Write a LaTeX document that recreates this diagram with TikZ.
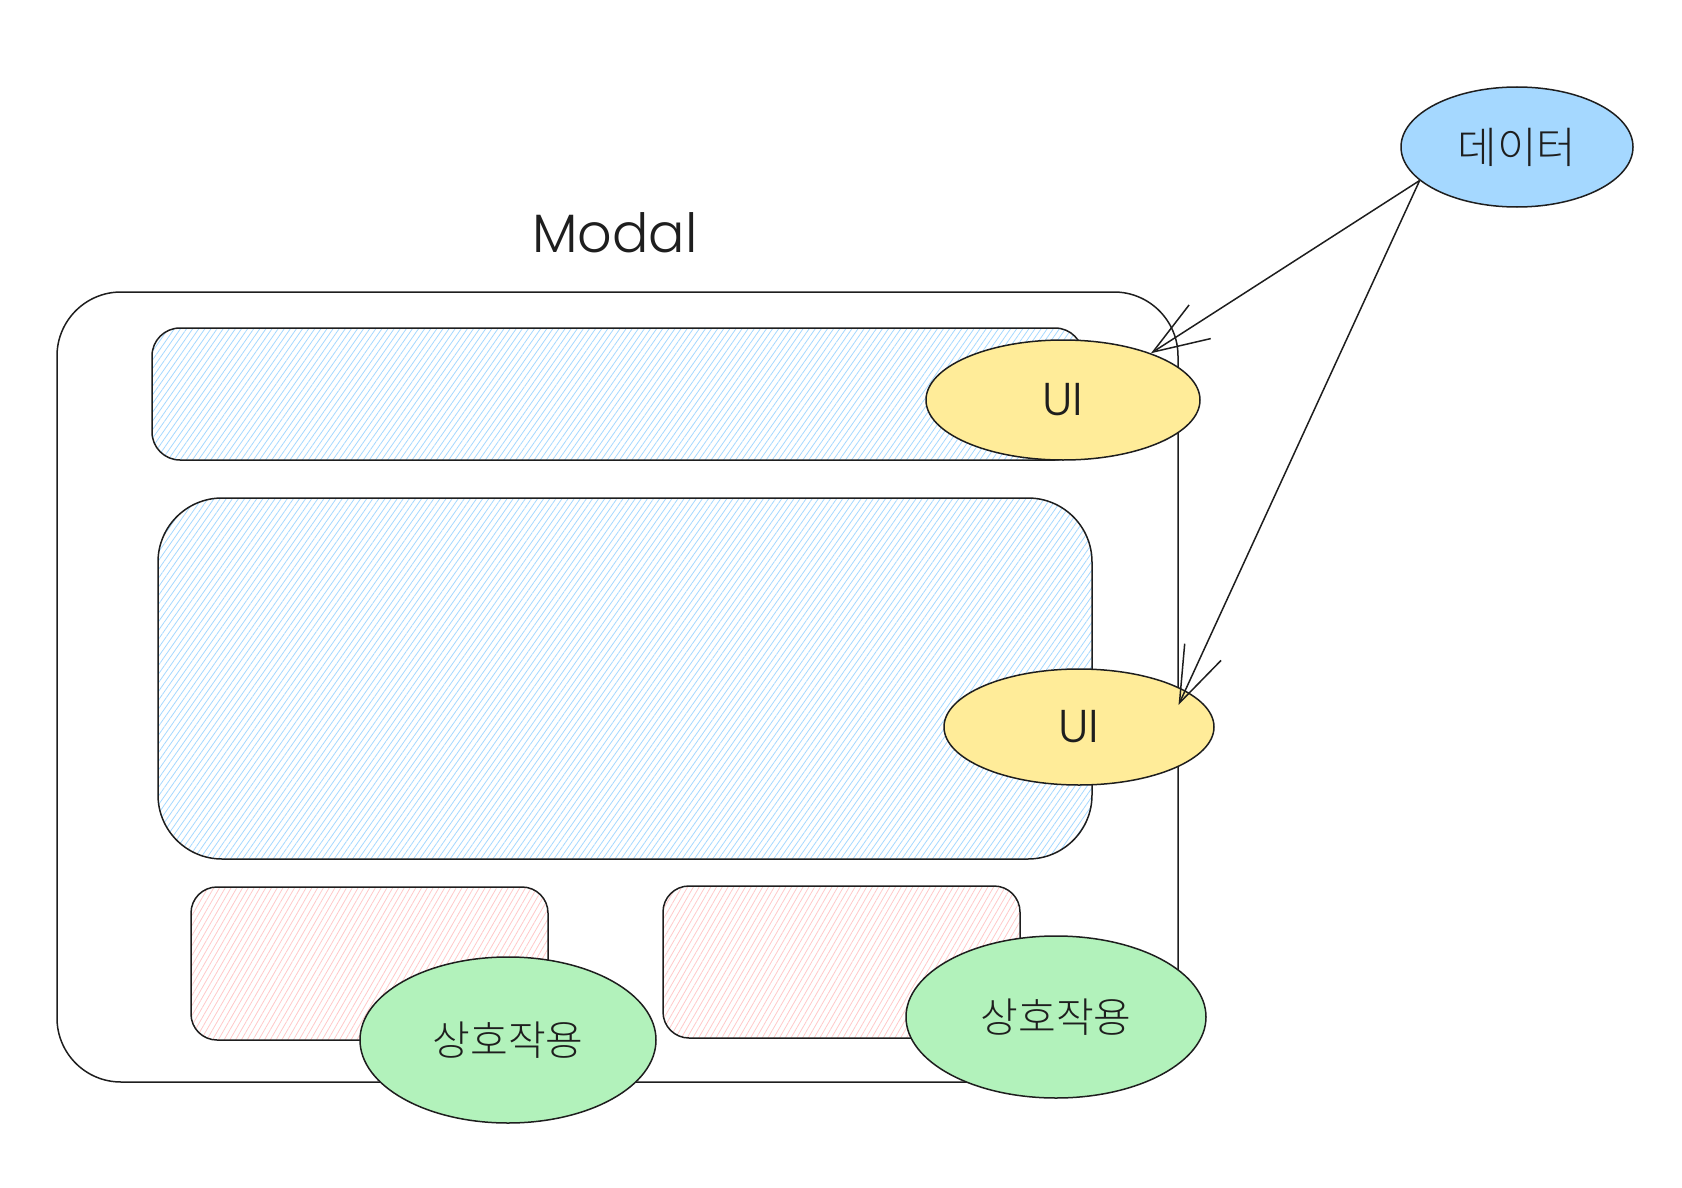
\documentclass[tikz,border=0pt]{standalone}
\usepackage{fontspec}
\setmainfont{Poppins}[UprightFont={* Light}]
\newfontfamily\kr{Noto Sans CJK KR Light}
\usetikzlibrary{positioning,shapes.geometric,arrows.meta,patterns.meta}

\definecolor{ink}{HTML}{1E1E1E}
\definecolor{hatchBlue}{HTML}{A5D8FF}
\definecolor{hatchPink}{HTML}{FFC9C9}
\definecolor{dataBlue}{HTML}{A5D8FF}
\definecolor{uiYellow}{HTML}{FFEC99}
\definecolor{actGreen}{HTML}{B2F2BB}

\begin{document}
\begin{tikzpicture}[x=0.5pt, y=-0.5pt, line width=0.75pt,
            frame/.style={draw=ink, rounded corners=#1},
            hatchblue/.style={pattern={Lines[angle=55,distance=2.5pt,line width=0.4pt]}, pattern color=hatchBlue},
            hatchpink/.style={pattern={Lines[angle=60,distance=2.5pt,line width=0.4pt]}, pattern color=hatchPink},
            bubble/.style={ellipse, draw=ink, inner sep=0pt, text=ink},
            krtext/.style={font=\kr\fontsize{20.5}{20.5}\selectfont},
            uitext/.style={font=\fontsize{23}{23}\selectfont},
            link/.style={draw=ink, -{Straight Barb[length=28pt,width=20pt]}}]

            \useasboundingbox (0,0) rectangle (1682,1188);

            % title and outer frame
            \node[text=ink, font=\fontsize{27}{27}\selectfont] (title) at (615,233) {Modal};
            \draw[frame=32pt] (57,292) rectangle (1178,1082);

            % content areas
            \draw[frame=14pt, hatchblue] (152,328) rectangle (1083,460);
            \draw[frame=32pt, hatchblue] (158,498) rectangle (1092,859);
            \draw[frame=13pt, hatchpink] (191,887) rectangle (548,1040);
            \draw[frame=13pt, hatchpink] (663,886) rectangle (1020,1038);

            % bubbles
            \node[bubble, fill=uiYellow, minimum width=137pt, minimum height=60pt, uitext] (uiTop) at (1063,400) {UI};
            \node[bubble, fill=uiYellow, minimum width=135pt, minimum height=58pt, uitext] (uiBody) at (1079,727) {UI};
            \node[bubble, fill=actGreen, minimum width=148pt, minimum height=83pt, krtext] (actL) at (508,1040) {상호작용};
            \node[bubble, fill=actGreen, minimum width=150pt, minimum height=81pt, krtext] (actR) at (1056,1017) {상호작용};
            \node[bubble, fill=dataBlue, minimum width=116pt, minimum height=60pt, krtext, font=\kr\fontsize{21.5}{21.5}\selectfont] (data) at (1517,147) {데이터};

            % data flow
            \draw[link] (data.199) -- (uiTop.28);
            \draw[link, shorten >=-8pt] (data.199) -- (uiBody.19);
        \end{tikzpicture}
\end{document}
